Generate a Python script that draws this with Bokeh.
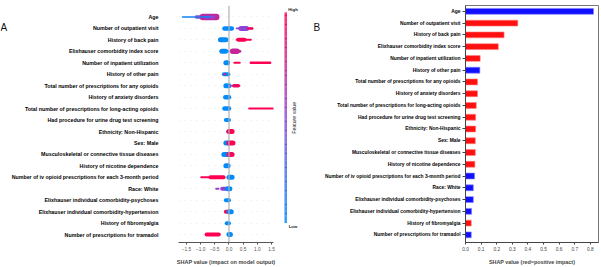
import numpy as np
from bokeh.plotting import figure
from bokeh.layouts import row
from bokeh.models import Range1d, FixedTicker, Span, ColumnDataSource
from bokeh.transform import linear_cmap, factor_cmap
from bokeh.core.properties import value
from bokeh.embed import file_html
from bokeh.resources import INLINE

# ---------------- data ----------------
features = [
    "Age", "Number of outpatient visit", "History of back pain",
    "Elixhauser comorbidity index score", "Number of inpatient utilization",
    "History of other pain", "Total number of prescriptions for any opioids",
    "History of anxiety disorders",
    "Total number of prescriptions for long-acting opioids",
    "Had procedure for urine drug test screening", "Ethnicity: Non-Hispanic",
    "Sex: Male", "Musculoskeletal or connective tissue diseases",
    "History of nicotine dependence",
    "Number of iv opioid prescriptions for each 3-month period", "Race: White",
    "Elixhauser individual comorbidity-psychoses",
    "Elixhauser individual comorbidity-hypertension",
    "History of fibromyalgia", "Number of prescriptions for tramadol",
]

# Panel B: mean |SHAP| and sign of impact
mean_abs_shap = [0.82, 0.335, 0.247, 0.21, 0.094, 0.092, 0.077, 0.077, 0.069,
                 0.065, 0.065, 0.063, 0.063, 0.060, 0.058, 0.050, 0.050,
                 0.039, 0.037, 0.037]
impact_sign = ["neg", "pos", "pos", "pos", "pos", "neg", "pos", "pos", "pos",
               "pos", "pos", "pos", "pos", "pos", "neg", "neg", "neg", "neg",
               "pos", "neg"]

# Panel A: beeswarm clusters (feature row, SHAP range, feature value, density)
bee_row = [0, 0, 0, 0, 0,
           1, 1, 1, 1,
           2, 2, 2,
           3, 3, 3, 3,
           4, 4, 4,
           5, 5,
           6, 6, 6,
           7,
           8, 8,
           9,
           10, 10,
           11, 11,
           12, 12,
           13,
           14, 14, 14,
           15, 15, 15,
           16,
           17, 17,
           18,
           19, 19]
bee_lo = [-1.64, -1.15, -0.92, -0.85, -1.05,
          -0.16, 0.27, 0.42, 0.68,
          -0.30, 0.27, 0.33,
          -0.30, -0.25, 0.11, 0.13,
          -0.11, 0.19, 0.77,
          -0.18, -0.16,
          -0.11, 0.03, 0.17,
          -0.13,
          -0.16, 0.71,
          -0.11,
          -0.05, 0.00,
          -0.11, 0.00,
          -0.18, 0.00,
          -0.11,
          -0.98, -0.65, 0.00,
          -0.45, -0.24, -0.05,
          -0.11,
          -0.11, 0.00,
          -0.08,
          -0.79, 0.00]
bee_hi = [-1.15, -0.92, -0.45, -0.55, -0.70,
          0.10, 0.82, 0.62, 0.82,
          -0.11, 0.77, 0.55,
          -0.03, -0.12, 0.38, 0.28,
          -0.05, 0.38, 1.45,
          -0.02, -0.13,
          0.00, 0.38, 0.33,
          0.00,
          0.00, 1.56,
          0.00,
          0.00, 0.11,
          0.00, 0.14,
          0.00, 0.11,
          -0.03,
          -0.65, -0.19, 0.11,
          -0.37, -0.11, 0.03,
          0.00,
          -0.03, 0.08,
          0.00,
          -0.36, 0.05]
bee_feature = [0.05, 0.35, 0.72, 0.45, 0.0,
               0.0, 0.55, 0.5, 0.95,
               0.0, 1.0, 1.0,
               0.0, 0.0, 0.7, 0.75,
               0.0, 1.0, 1.0,
               0.0, 0.85,
               0.0, 0.5, 0.95,
               0.0,
               0.0, 1.0,
               0.0,
               0.0, 1.0,
               0.0, 1.0,
               0.0, 0.95,
               0.0,
               1.0, 1.0, 0.0,
               0.55, 0.55, 0.0,
               0.0,
               1.0, 0.0,
               0.0,
               1.0, 0.0]
bee_density = [1.5, 3.5, 6.5, 3.0, 1.2,
               4.5, 1.8, 5.0, 2.5,
               5.0, 2.0, 4.0,
               2.0, 5.0, 3.0, 5.5,
               5.0, 2.0, 2.5,
               4.0, 2.0,
               5.0, 1.5, 3.5,
               4.5,
               4.5, 2.0,
               4.0,
               3.0, 5.0,
               5.0, 5.0,
               5.0, 5.0,
               5.0,
               2.0, 4.0, 5.0,
               2.0, 4.0, 5.0,
               4.0,
               4.0, 5.0,
               4.0,
               4.0, 5.0]

a_ticks = [-1.5, -1.0, -0.5, 0.0, 0.5, 1.0, 1.5]
b_ticks = [0.0, 0.1, 0.2, 0.3, 0.4, 0.5, 0.6, 0.7, 0.8]

# ---------------- styling helpers ----------------
FONT = "Liberation Sans"


def hex2rgb(h):
    return np.array([int(h[i:i + 2], 16) for i in (1, 3, 5)], dtype=float)


anchors = [(0.0, hex2rgb("#008bfb")), (0.5, hex2rgb("#8c46d8")), (1.0, hex2rgb("#ff0052"))]
palette = []
for t in np.linspace(0, 1, 256):
    for (t0, c0), (t1, c1) in zip(anchors[:-1], anchors[1:]):
        if t0 <= t <= t1:
            f = (t - t0) / (t1 - t0)
            c = c0 + (c1 - c0) * f
            palette.append("#%02x%02x%02x" % tuple(int(round(v)) for v in c))
            break

rows_idx = list(range(len(features)))
labels = {i: f for i, f in enumerate(features)}


def blank(width):
    p = figure(width=width, height=267, x_range=Range1d(0, width), y_range=Range1d(267, 0),
               output_backend="svg", toolbar_location=None,
               min_border_left=0, min_border_right=0, min_border_top=0,
               min_border_bottom=0)
    p.axis.visible = False
    p.grid.visible = False
    p.outline_line_color = None
    return p


# ---------------- panel letter A ----------------
pL = blank(8)
pL.text(x=[0], y=[25], text=["A"], text_font=value(FONT), text_font_size="10px",
        text_baseline="alphabetic", text_align="left", text_color="#111111")

# ---------------- Panel A ----------------
pA = figure(width=271, height=267, x_range=Range1d(-1.78, 1.57),
            y_range=Range1d(19.69, -1.0), output_backend="svg",
            toolbar_location=None, min_border_left=163, min_border_right=6,
            min_border_top=4, min_border_bottom=22)
pA.outline_line_color = None
pA.xgrid.visible = False
pA.ygrid.ticker = FixedTicker(ticks=rows_idx)
pA.ygrid.grid_line_color = "#cccccc"
pA.ygrid.grid_line_width = 0.5
pA.ygrid.grid_line_dash = "1 5"

pA.add_layout(Span(location=0, dimension="height", line_color="#b0b0b0", line_width=1.2))

src_a = ColumnDataSource(dict(row=bee_row, lo=bee_lo, hi=bee_hi,
                              feat=bee_feature, dens=bee_density))
pA.segment(x0="lo", y0="row", x1="hi", y1="row", source=src_a,
           line_width="dens", line_cap="round",
           line_color=linear_cmap("feat", palette, 0, 1))

ya = pA.yaxis[0]
ya.ticker = FixedTicker(ticks=rows_idx)
ya.major_label_overrides = labels
ya.axis_line_color = None
ya.major_tick_line_color = None
ya.minor_tick_line_color = None
ya.major_label_standoff = 14
ya.major_label_text_font = FONT
ya.major_label_text_font_style = "bold"
ya.major_label_text_font_size = "5.3px"
ya.major_label_text_color = "#000000"

xa = pA.xaxis[0]
xa.ticker = FixedTicker(ticks=a_ticks)
xa.major_label_overrides = {t: ("%.1f" % t).replace("-", "\u2212") for t in a_ticks}
xa.axis_line_color = "#555555"
xa.major_tick_line_color = "#555555"
xa.minor_tick_line_color = None
xa.major_tick_out = 2
xa.major_tick_in = 0
xa.major_label_standoff = 2
xa.major_label_text_font = FONT
xa.major_label_text_font_size = "4.8px"
xa.major_label_text_color = "#555555"
xa.axis_label = "SHAP value (impact on model output)"
xa.axis_label_text_font = FONT
xa.axis_label_text_font_style = "bold"
xa.axis_label_text_font_size = "5.5px"
xa.axis_label_standoff = 5

# ---------------- Colour bar + letter B ----------------
pC = blank(42)
levels = np.linspace(0, 1, len(palette) + 1)
cb_bottom = 245 - levels[:-1] * 237
cb_top = 245 - levels[1:] * 237
pC.quad(left=5, right=7.5, bottom=cb_bottom, top=cb_top, fill_color=palette,
        line_color=None)
pC.text(x=[13.5, 13.5], y=[4.5, 249.5], text=["High", "Low"], text_align="center",
        text_baseline="middle", text_font=value(FONT),
        text_font_style="bold", text_font_size="4.3px", text_color="#222222")
pC.text(x=[14.5], y=[126.5], text=["Feature value"], angle=np.pi / 2,
        text_align="center", text_baseline="middle",
        text_font=value(FONT), text_font_size="5.2px",
        text_color="#222222")
pC.text(x=[34], y=[25], text=["B"], text_font=value(FONT), text_font_size="10px",
        text_baseline="alphabetic", text_align="left", text_color="#111111")

# ---------------- Panel B ----------------
pB = figure(width=280, height=267, x_range=Range1d(0, 0.852),
            y_range=Range1d(19.65, -0.5), output_backend="svg",
            toolbar_location=None, min_border_left=142, min_border_right=3,
            min_border_top=5, min_border_bottom=22)
pB.grid.visible = False
pB.outline_line_color = "#777777"
pB.outline_line_width = 1

src_b = ColumnDataSource(dict(row=rows_idx, val=mean_abs_shap, sign=impact_sign))
pB.hbar(y="row", left=0, right="val", height=0.5, source=src_b,
        fill_color=factor_cmap("sign", ["#1010ff", "#ff1010"], ["neg", "pos"]),
        line_color=factor_cmap("sign", ["#8080ff", "#ff8080"], ["neg", "pos"]),
        line_width=0.6)

yb = pB.yaxis[0]
yb.ticker = FixedTicker(ticks=rows_idx)
yb.major_label_overrides = labels
yb.axis_line_color = "#444444"
yb.major_tick_line_color = "#444444"
yb.minor_tick_line_color = None
yb.major_tick_out = 3
yb.major_tick_in = 0
yb.major_label_standoff = 2
yb.major_label_text_font = FONT
yb.major_label_text_font_style = "bold"
yb.major_label_text_font_size = "4.9px"
yb.major_label_text_color = "#000000"

xb = pB.xaxis[0]
xb.ticker = FixedTicker(ticks=b_ticks)
xb.major_label_overrides = {t: "%.1f" % t for t in b_ticks}
xb.axis_line_color = "#444444"
xb.major_tick_line_color = "#444444"
xb.minor_tick_line_color = None
xb.major_tick_out = 2
xb.major_tick_in = 0
xb.major_label_standoff = 2
xb.major_label_text_font = FONT
xb.major_label_text_font_size = "4.8px"
xb.major_label_text_color = "#444444"
xb.axis_label = "SHAP value (red=positive impact)"
xb.axis_label_text_font = FONT
xb.axis_label_text_font_style = "bold"
xb.axis_label_text_font_size = "5.4px"
xb.axis_label_standoff = 5

layout = row(pL, pA, pC, pB)
open("out.html", "w").write(file_html(layout, INLINE))
